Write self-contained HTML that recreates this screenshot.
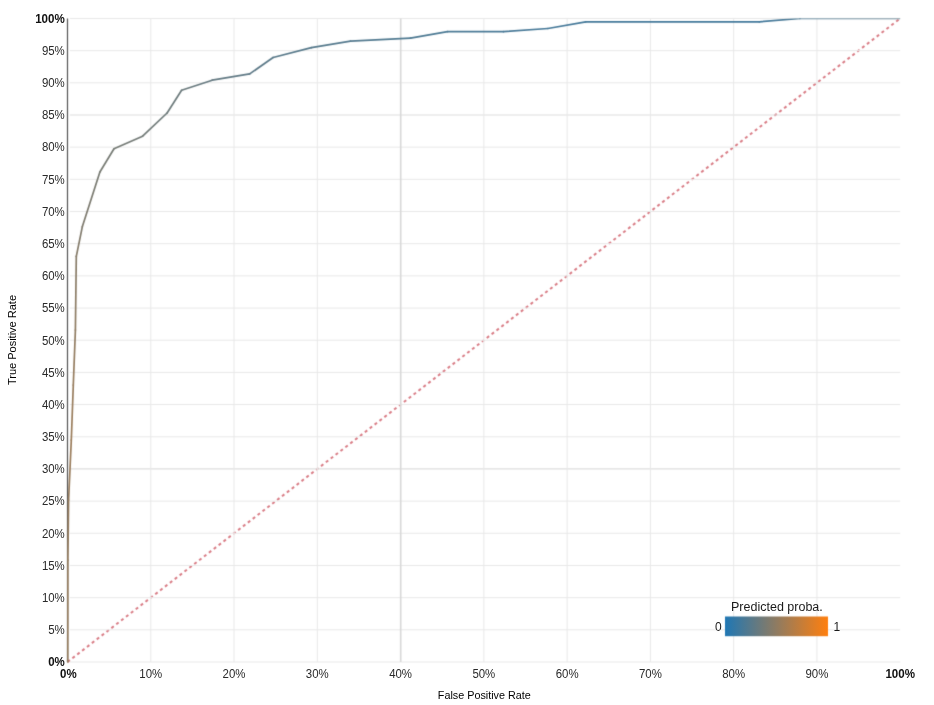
<!DOCTYPE html>
<html><head><meta charset="utf-8"><title>ROC curve</title>
<style>
html,body{margin:0;padding:0;background:#fff;}
svg{display:block;}
text{font-family:"Liberation Sans",Arial,sans-serif;}
.tk{font-size:12px;fill:#2a2a2a;}
.tb{font-size:12px;fill:#111;font-weight:bold;}
.ti{font-size:12px;fill:#1a1a1a;}
.at{font-size:11.5px;fill:#000;}
</style></head><body>
<svg width="934" height="705" viewBox="0 0 934 705">
<defs>
<clipPath id="pc"><rect x="63.5" y="18.45" width="836.7" height="647.55"/></clipPath>
<linearGradient id="lg" x1="0" y1="0" x2="1" y2="0"><stop offset="0" stop-color="#1f77b4"/><stop offset="1" stop-color="#ff7f0e"/></linearGradient>
<linearGradient id="g0" gradientUnits="userSpaceOnUse" x1="67.8" y1="662.0" x2="67.9" y2="560.0"><stop offset="0" stop-color="#937b5e"/><stop offset="1" stop-color="#937b5e"/></linearGradient>
<linearGradient id="g1" gradientUnits="userSpaceOnUse" x1="67.9" y1="560.0" x2="68.6" y2="500.0"><stop offset="0" stop-color="#937b5e"/><stop offset="1" stop-color="#967b5c"/></linearGradient>
<linearGradient id="g2" gradientUnits="userSpaceOnUse" x1="68.6" y1="500.0" x2="71.3" y2="440.0"><stop offset="0" stop-color="#967b5c"/><stop offset="1" stop-color="#9a7b59"/></linearGradient>
<linearGradient id="g3" gradientUnits="userSpaceOnUse" x1="71.3" y1="440.0" x2="73.3" y2="385.0"><stop offset="0" stop-color="#9a7b59"/><stop offset="1" stop-color="#967b5c"/></linearGradient>
<linearGradient id="g4" gradientUnits="userSpaceOnUse" x1="73.3" y1="385.0" x2="75.4" y2="330.0"><stop offset="0" stop-color="#967b5c"/><stop offset="1" stop-color="#8f7b61"/></linearGradient>
<linearGradient id="g5" gradientUnits="userSpaceOnUse" x1="75.4" y1="330.0" x2="76.3" y2="256.3"><stop offset="0" stop-color="#8f7b61"/><stop offset="1" stop-color="#867b68"/></linearGradient>
<linearGradient id="g6" gradientUnits="userSpaceOnUse" x1="76.3" y1="256.3" x2="82.3" y2="226.8"><stop offset="0" stop-color="#867b68"/><stop offset="1" stop-color="#7f7a6d"/></linearGradient>
<linearGradient id="g7" gradientUnits="userSpaceOnUse" x1="82.3" y1="226.8" x2="99.9" y2="172.0"><stop offset="0" stop-color="#7f7a6d"/><stop offset="1" stop-color="#777a72"/></linearGradient>
<linearGradient id="g8" gradientUnits="userSpaceOnUse" x1="99.9" y1="172.0" x2="114.0" y2="148.8"><stop offset="0" stop-color="#777a72"/><stop offset="1" stop-color="#757a74"/></linearGradient>
<linearGradient id="g9" gradientUnits="userSpaceOnUse" x1="114.0" y1="148.8" x2="142.6" y2="136.2"><stop offset="0" stop-color="#757a74"/><stop offset="1" stop-color="#727a77"/></linearGradient>
<linearGradient id="g10" gradientUnits="userSpaceOnUse" x1="142.6" y1="136.2" x2="167.1" y2="113.0"><stop offset="0" stop-color="#727a77"/><stop offset="1" stop-color="#6d7a7a"/></linearGradient>
<linearGradient id="g11" gradientUnits="userSpaceOnUse" x1="167.1" y1="113.0" x2="181.6" y2="90.3"><stop offset="0" stop-color="#6d7a7a"/><stop offset="1" stop-color="#6b7a7c"/></linearGradient>
<linearGradient id="g12" gradientUnits="userSpaceOnUse" x1="181.6" y1="90.3" x2="212.2" y2="80.2"><stop offset="0" stop-color="#6b7a7c"/><stop offset="1" stop-color="#647981"/></linearGradient>
<linearGradient id="g13" gradientUnits="userSpaceOnUse" x1="212.2" y1="80.2" x2="249.7" y2="73.9"><stop offset="0" stop-color="#647981"/><stop offset="1" stop-color="#5e7986"/></linearGradient>
<linearGradient id="g14" gradientUnits="userSpaceOnUse" x1="249.7" y1="73.9" x2="273.1" y2="57.5"><stop offset="0" stop-color="#5e7986"/><stop offset="1" stop-color="#597989"/></linearGradient>
<linearGradient id="g15" gradientUnits="userSpaceOnUse" x1="273.1" y1="57.5" x2="311.4" y2="47.6"><stop offset="0" stop-color="#597989"/><stop offset="1" stop-color="#56798b"/></linearGradient>
<linearGradient id="g16" gradientUnits="userSpaceOnUse" x1="311.4" y1="47.6" x2="350.5" y2="41.2"><stop offset="0" stop-color="#56798b"/><stop offset="1" stop-color="#53798e"/></linearGradient>
<linearGradient id="g17" gradientUnits="userSpaceOnUse" x1="350.5" y1="41.2" x2="410.5" y2="38.2"><stop offset="0" stop-color="#53798e"/><stop offset="1" stop-color="#4e7991"/></linearGradient>
<linearGradient id="g18" gradientUnits="userSpaceOnUse" x1="410.5" y1="38.2" x2="447.5" y2="31.6"><stop offset="0" stop-color="#4e7991"/><stop offset="1" stop-color="#4a7994"/></linearGradient>
<linearGradient id="g19" gradientUnits="userSpaceOnUse" x1="447.5" y1="31.6" x2="503.4" y2="31.7"><stop offset="0" stop-color="#4a7994"/><stop offset="1" stop-color="#477896"/></linearGradient>
<linearGradient id="g20" gradientUnits="userSpaceOnUse" x1="503.4" y1="31.7" x2="547.9" y2="28.5"><stop offset="0" stop-color="#477896"/><stop offset="1" stop-color="#457898"/></linearGradient>
<linearGradient id="g21" gradientUnits="userSpaceOnUse" x1="547.9" y1="28.5" x2="585.7" y2="21.8"><stop offset="0" stop-color="#457898"/><stop offset="1" stop-color="#437899"/></linearGradient>
<linearGradient id="g22" gradientUnits="userSpaceOnUse" x1="585.7" y1="21.8" x2="759.2" y2="21.8"><stop offset="0" stop-color="#437899"/><stop offset="1" stop-color="#41789b"/></linearGradient>
<linearGradient id="g23" gradientUnits="userSpaceOnUse" x1="759.2" y1="21.8" x2="800.0" y2="18.5"><stop offset="0" stop-color="#41789b"/><stop offset="1" stop-color="#4c7993"/></linearGradient>
<linearGradient id="g24" gradientUnits="userSpaceOnUse" x1="800.0" y1="18.5" x2="900.2" y2="18.5"><stop offset="0" stop-color="#4c7993"/><stop offset="1" stop-color="#57798a"/></linearGradient>
<filter id="bl" filterUnits="userSpaceOnUse" x="0" y="0" width="934" height="705" color-interpolation-filters="sRGB"><feConvolveMatrix order="3" kernelMatrix="1 6 1 6 36 6 1 6 1" edgeMode="duplicate"/></filter>
</defs>
<g filter="url(#bl)">
<rect x="0" y="0" width="934" height="705" fill="#fff"/>
<line x1="67.5" y1="662.0" x2="900.2" y2="18.45" stroke="#d97d86" stroke-width="2.0" stroke-dasharray="3 3.161"/>
<g stroke="#e8e8e8" stroke-width="1" fill="none">
<line x1="69.8" y1="662.00" x2="900.2" y2="662.00"/>
<line x1="69.8" y1="629.82" x2="900.2" y2="629.82"/>
<line x1="69.8" y1="597.64" x2="900.2" y2="597.64"/>
<line x1="69.8" y1="565.47" x2="900.2" y2="565.47"/>
<line x1="69.8" y1="533.29" x2="900.2" y2="533.29"/>
<line x1="69.8" y1="501.11" x2="900.2" y2="501.11"/>
<line x1="69.8" y1="468.94" x2="900.2" y2="468.94" stroke="#dedede" stroke-width="1.2"/>
<line x1="69.8" y1="436.76" x2="900.2" y2="436.76"/>
<line x1="69.8" y1="404.58" x2="900.2" y2="404.58"/>
<line x1="69.8" y1="372.40" x2="900.2" y2="372.40"/>
<line x1="69.8" y1="340.23" x2="900.2" y2="340.23"/>
<line x1="69.8" y1="308.05" x2="900.2" y2="308.05"/>
<line x1="69.8" y1="275.87" x2="900.2" y2="275.87"/>
<line x1="69.8" y1="243.69" x2="900.2" y2="243.69"/>
<line x1="69.8" y1="211.52" x2="900.2" y2="211.52"/>
<line x1="69.8" y1="179.34" x2="900.2" y2="179.34"/>
<line x1="69.8" y1="147.16" x2="900.2" y2="147.16"/>
<line x1="69.8" y1="114.98" x2="900.2" y2="114.98" stroke="#dedede" stroke-width="1.2"/>
<line x1="69.8" y1="82.81" x2="900.2" y2="82.81"/>
<line x1="69.8" y1="50.63" x2="900.2" y2="50.63"/>
<line x1="69.8" y1="18.45" x2="900.2" y2="18.45"/>
<line x1="150.77" y1="18.45" x2="150.77" y2="662.0"/>
<line x1="234.04" y1="18.45" x2="234.04" y2="662.0"/>
<line x1="317.31" y1="18.45" x2="317.31" y2="662.0"/>
<line x1="400.7" y1="18.45" x2="400.7" y2="662.0" stroke="#d8d8d8" stroke-width="1.6"/>
<line x1="483.85" y1="18.45" x2="483.85" y2="662.0"/>
<line x1="567.12" y1="18.45" x2="567.12" y2="662.0"/>
<line x1="650.39" y1="18.45" x2="650.39" y2="662.0"/>
<line x1="733.66" y1="18.45" x2="733.66" y2="662.0"/>
<line x1="816.93" y1="18.45" x2="816.93" y2="662.0"/>
</g>
<line x1="67.5" y1="18.45" x2="67.5" y2="662.0" stroke="#555" stroke-width="1.2"/>
<g clip-path="url(#pc)" stroke-width="1.7" stroke-linecap="round" fill="none">
<line x1="67.8" y1="662.0" x2="67.9" y2="560.0" stroke="url(#g0)"/>
<line x1="67.9" y1="560.0" x2="68.6" y2="500.0" stroke="url(#g1)"/>
<line x1="68.6" y1="500.0" x2="71.3" y2="440.0" stroke="url(#g2)"/>
<line x1="71.3" y1="440.0" x2="73.3" y2="385.0" stroke="url(#g3)"/>
<line x1="73.3" y1="385.0" x2="75.4" y2="330.0" stroke="url(#g4)"/>
<line x1="75.4" y1="330.0" x2="76.3" y2="256.3" stroke="url(#g5)"/>
<line x1="76.3" y1="256.3" x2="82.3" y2="226.8" stroke="url(#g6)"/>
<line x1="82.3" y1="226.8" x2="99.9" y2="172.0" stroke="url(#g7)"/>
<line x1="99.9" y1="172.0" x2="114.0" y2="148.8" stroke="url(#g8)"/>
<line x1="114.0" y1="148.8" x2="142.6" y2="136.2" stroke="url(#g9)"/>
<line x1="142.6" y1="136.2" x2="167.1" y2="113.0" stroke="url(#g10)"/>
<line x1="167.1" y1="113.0" x2="181.6" y2="90.3" stroke="url(#g11)"/>
<line x1="181.6" y1="90.3" x2="212.2" y2="80.2" stroke="url(#g12)"/>
<line x1="212.2" y1="80.2" x2="249.7" y2="73.9" stroke="url(#g13)"/>
<line x1="249.7" y1="73.9" x2="273.1" y2="57.5" stroke="url(#g14)"/>
<line x1="273.1" y1="57.5" x2="311.4" y2="47.6" stroke="url(#g15)"/>
<line x1="311.4" y1="47.6" x2="350.5" y2="41.2" stroke="url(#g16)"/>
<line x1="350.5" y1="41.2" x2="410.5" y2="38.2" stroke="url(#g17)"/>
<line x1="410.5" y1="38.2" x2="447.5" y2="31.6" stroke="url(#g18)"/>
<line x1="447.5" y1="31.6" x2="503.4" y2="31.7" stroke="url(#g19)"/>
<line x1="503.4" y1="31.7" x2="547.9" y2="28.5" stroke="url(#g20)"/>
<line x1="547.9" y1="28.5" x2="585.7" y2="21.8" stroke="url(#g21)"/>
<line x1="585.7" y1="21.8" x2="759.2" y2="21.8" stroke="url(#g22)"/>
<line x1="759.2" y1="21.8" x2="800.0" y2="18.5" stroke="url(#g23)"/>
<line x1="800.0" y1="18.5" x2="900.2" y2="18.5" stroke="url(#g24)"/>
</g>
<rect x="725" y="616.5" width="103" height="19.7" fill="url(#lg)"/>
</g>
<text class="tb" x="64.8" y="666.30" text-anchor="end" textLength="16.6" lengthAdjust="spacingAndGlyphs">0%</text>
<text class="tk" x="64.8" y="634.12" text-anchor="end" textLength="16.6" lengthAdjust="spacingAndGlyphs">5%</text>
<text class="tk" x="64.8" y="601.94" text-anchor="end" textLength="22.9" lengthAdjust="spacingAndGlyphs">10%</text>
<text class="tk" x="64.8" y="569.77" text-anchor="end" textLength="22.9" lengthAdjust="spacingAndGlyphs">15%</text>
<text class="tk" x="64.8" y="537.59" text-anchor="end" textLength="22.9" lengthAdjust="spacingAndGlyphs">20%</text>
<text class="tk" x="64.8" y="505.41" text-anchor="end" textLength="22.9" lengthAdjust="spacingAndGlyphs">25%</text>
<text class="tk" x="64.8" y="473.24" text-anchor="end" textLength="22.9" lengthAdjust="spacingAndGlyphs">30%</text>
<text class="tk" x="64.8" y="441.06" text-anchor="end" textLength="22.9" lengthAdjust="spacingAndGlyphs">35%</text>
<text class="tk" x="64.8" y="408.88" text-anchor="end" textLength="22.9" lengthAdjust="spacingAndGlyphs">40%</text>
<text class="tk" x="64.8" y="376.70" text-anchor="end" textLength="22.9" lengthAdjust="spacingAndGlyphs">45%</text>
<text class="tk" x="64.8" y="344.53" text-anchor="end" textLength="22.9" lengthAdjust="spacingAndGlyphs">50%</text>
<text class="tk" x="64.8" y="312.35" text-anchor="end" textLength="22.9" lengthAdjust="spacingAndGlyphs">55%</text>
<text class="tk" x="64.8" y="280.17" text-anchor="end" textLength="22.9" lengthAdjust="spacingAndGlyphs">60%</text>
<text class="tk" x="64.8" y="247.99" text-anchor="end" textLength="22.9" lengthAdjust="spacingAndGlyphs">65%</text>
<text class="tk" x="64.8" y="215.82" text-anchor="end" textLength="22.9" lengthAdjust="spacingAndGlyphs">70%</text>
<text class="tk" x="64.8" y="183.64" text-anchor="end" textLength="22.9" lengthAdjust="spacingAndGlyphs">75%</text>
<text class="tk" x="64.8" y="151.46" text-anchor="end" textLength="22.9" lengthAdjust="spacingAndGlyphs">80%</text>
<text class="tk" x="64.8" y="119.28" text-anchor="end" textLength="22.9" lengthAdjust="spacingAndGlyphs">85%</text>
<text class="tk" x="64.8" y="87.11" text-anchor="end" textLength="22.9" lengthAdjust="spacingAndGlyphs">90%</text>
<text class="tk" x="64.8" y="54.93" text-anchor="end" textLength="22.9" lengthAdjust="spacingAndGlyphs">95%</text>
<text class="tb" x="64.8" y="22.75" text-anchor="end" textLength="29.6" lengthAdjust="spacingAndGlyphs">100%</text>
<text class="tb" x="68.30" y="678.1" text-anchor="middle" textLength="16.6" lengthAdjust="spacingAndGlyphs">0%</text>
<text class="tk" x="150.77" y="678.1" text-anchor="middle" textLength="22.9" lengthAdjust="spacingAndGlyphs">10%</text>
<text class="tk" x="234.04" y="678.1" text-anchor="middle" textLength="22.9" lengthAdjust="spacingAndGlyphs">20%</text>
<text class="tk" x="317.31" y="678.1" text-anchor="middle" textLength="22.9" lengthAdjust="spacingAndGlyphs">30%</text>
<text class="tk" x="400.58" y="678.1" text-anchor="middle" textLength="22.9" lengthAdjust="spacingAndGlyphs">40%</text>
<text class="tk" x="483.85" y="678.1" text-anchor="middle" textLength="22.9" lengthAdjust="spacingAndGlyphs">50%</text>
<text class="tk" x="567.12" y="678.1" text-anchor="middle" textLength="22.9" lengthAdjust="spacingAndGlyphs">60%</text>
<text class="tk" x="650.39" y="678.1" text-anchor="middle" textLength="22.9" lengthAdjust="spacingAndGlyphs">70%</text>
<text class="tk" x="733.66" y="678.1" text-anchor="middle" textLength="22.9" lengthAdjust="spacingAndGlyphs">80%</text>
<text class="tk" x="816.93" y="678.1" text-anchor="middle" textLength="22.9" lengthAdjust="spacingAndGlyphs">90%</text>
<text class="tb" x="900.20" y="678.1" text-anchor="middle" textLength="29.6" lengthAdjust="spacingAndGlyphs">100%</text>
<text class="at" x="484.3" y="699" text-anchor="middle" textLength="93" lengthAdjust="spacingAndGlyphs">False Positive Rate</text>
<text class="at" transform="translate(16,340.0) rotate(-90)" x="0" y="0" text-anchor="middle" textLength="90" lengthAdjust="spacingAndGlyphs">True Positive Rate</text>
<text class="ti" x="776.9" y="610.9" text-anchor="middle" style="font-size:12.5px">Predicted proba.</text>
<text class="ti" x="721.6" y="631.4" text-anchor="end">0</text>
<text class="ti" x="833.6" y="631.4">1</text>
</svg>
</body></html>
